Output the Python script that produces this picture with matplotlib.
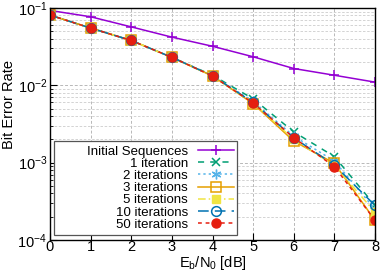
import matplotlib
matplotlib.use("Agg")
import matplotlib.pyplot as plt
import numpy as np
from matplotlib.ticker import LogLocator, NullFormatter

plt.rcParams['font.family'] = ['Liberation Sans', 'DejaVu Sans']
plt.rcParams['mathtext.fontset'] = 'custom'
plt.rcParams['mathtext.rm'] = 'Liberation Sans'
plt.rcParams['mathtext.it'] = 'Liberation Sans'

snr = [0, 1, 2, 3, 4, 5, 6, 7, 8]
initial = [0.093, 0.077, 0.057, 0.042, 0.032, 0.0234, 0.0165, 0.0135, 0.011]
it1 = [0.081, 0.055, 0.038, 0.023, 0.0135, 0.0067, 0.0025, 0.0012, 0.00028]
it2 = [0.081, 0.055, 0.038, 0.023, 0.0133, 0.0062, 0.0022, 0.00105, 0.00025]
it3 = [0.081, 0.055, 0.038, 0.023, 0.0132, 0.0058, 0.0019, 0.00098, 0.00018]
it5 = [0.081, 0.055, 0.038, 0.023, 0.0132, 0.0059, 0.0020, 0.00092, 0.00023]
it10 = [0.081, 0.055, 0.038, 0.023, 0.0133, 0.0060, 0.0021, 0.00093, 0.00028]
it50 = [0.081, 0.055, 0.038, 0.023, 0.0132, 0.0059, 0.0021, 0.00089, 0.00018]

labels = ["Initial Sequences", "1 iteration", "2 iterations", "3 iterations",
          "5 iterations", "10 iterations", "50 iterations"]

fig = plt.figure(figsize=(3.88, 2.71), dpi=100)
ax = fig.add_axes([50/388, 1 - 240/271, 325/388, 232/271])

lw = 1.1
ax.plot(snr, initial, color='#9400D3', ls='-', marker='+', ms=7, mew=1.1, lw=lw, label=labels[0])
ax.plot(snr, it1, color='#009E73', ls=(0, (4, 4)), marker='x', ms=6, mew=1.1, lw=lw, label=labels[1])
ax.plot(snr, it2, color='#56B4E9', ls=(0, (1.5, 2)), marker=(6, 2, 0), ms=7, mew=1.0, lw=lw, label=labels[2])
ax.plot(snr, it3, color='#E69F00', ls='-', marker='s', ms=7, mfc='none', mew=1.1, lw=lw, label=labels[3])
ax.plot(snr, it5, color='#F0E442', ls=(0, (5, 2, 1, 2)), marker='s', ms=6, lw=lw, label=labels[4])
ax.plot(snr, it10, color='#0072B2', ls=(0, (7, 4)), marker='o', ms=7, mfc='none', mew=1.1, lw=lw, label=labels[5])
ax.plot(snr, it50, color='#E51E10', ls=(0, (2.5, 2.5)), marker='o', ms=6.5, lw=lw, label=labels[6])

ax.set_yscale('log')
ax.set_xlim(0, 8)
ax.set_ylim(1e-4, 1e-1)
ax.set_xticks(range(0, 9))
ax.yaxis.set_major_locator(LogLocator(base=10, numticks=10))
ax.yaxis.set_minor_locator(LogLocator(base=10, subs=np.arange(2, 10), numticks=20))
ax.yaxis.set_minor_formatter(NullFormatter())
ax.grid(True, which='major', color='#b8b8b8', ls=(0, (3, 2)), lw=0.7)
ax.grid(True, which='minor', axis='y', color='#cccccc', ls=(0, (3, 2)), lw=0.6)
ax.tick_params(which='both', direction='in', labelsize=10.5, top=False, right=False, pad=2)
ax.tick_params(axis='x', pad=0)
ax.tick_params(which='major', length=5)
ax.tick_params(which='minor', length=2.5)
for s in ax.spines.values():
    s.set_linewidth(1.0)

ax.set_xlabel(r'E$_\mathrm{b}$/N$_0$ [dB]', fontsize=10.5)
ax.xaxis.set_label_coords(0.5, -0.062)
ax.set_ylabel('Bit Error Rate', fontsize=10.5)
ax.yaxis.set_label_coords(-0.105, 0.586)

leg_labels = list(labels)
leg_labels[0] = "        " + labels[0]
handles, _ = ax.get_legend_handles_labels()
leg = ax.legend(handles, leg_labels, loc='lower left', markerfirst=False, fontsize=9.5,
                frameon=True, fancybox=False, edgecolor='#555555', framealpha=1,
                handlelength=2.7, borderpad=0.3, labelspacing=0.0, handletextpad=0.75,
                borderaxespad=0, bbox_to_anchor=(0.012, 0.022))
for t in leg.get_texts():
    t.set_ha('right')
leg.get_frame().set_linewidth(0.9)

fig.savefig('out.png', dpi=100)
